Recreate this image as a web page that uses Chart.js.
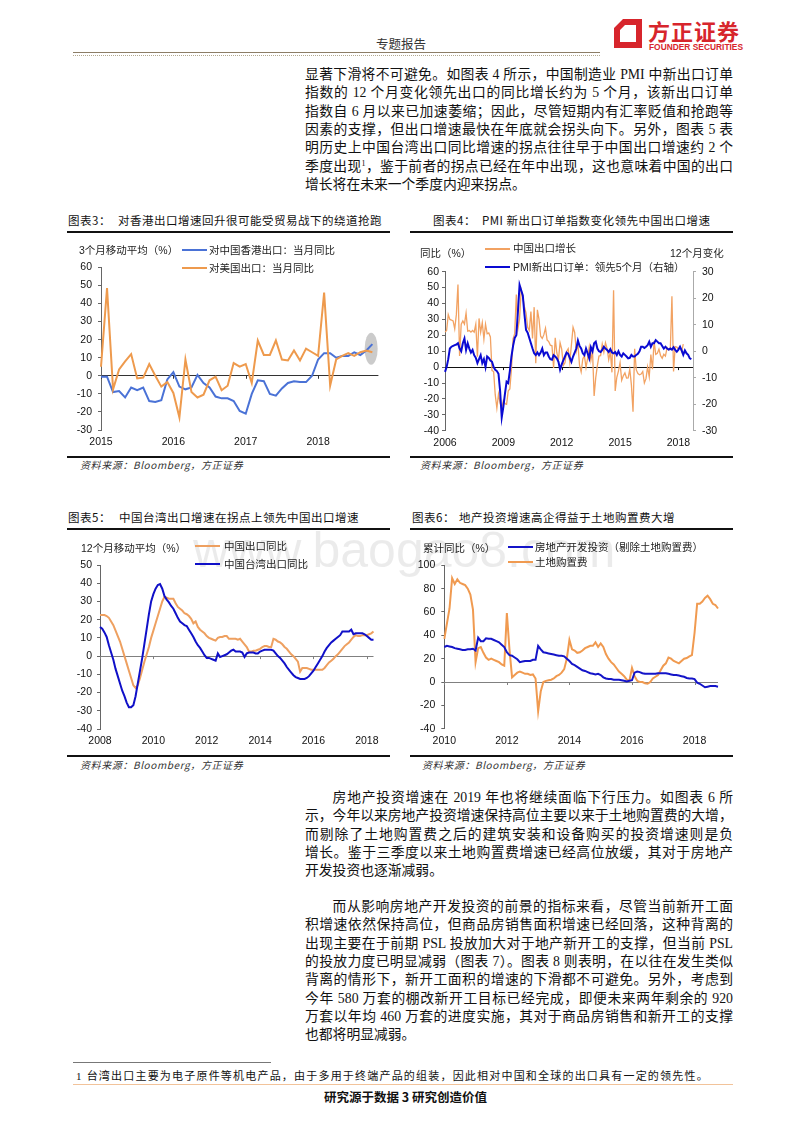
<!DOCTYPE html>
<html lang="zh-CN">
<head>
<meta charset="utf-8">
<title>专题报告</title>
<script src="https://cdn.jsdelivr.net/npm/chart.js@4.4.1/dist/chart.umd.min.js"></script>
<style>
  html, body { margin: 0; padding: 0; background: #fff; }
  body { position: relative; width: 800px; height: 1132px; overflow: hidden; color: #111;
         font-family: "Liberation Serif", "Noto Sans CJK SC", serif; }
  .abs { position: absolute; white-space: nowrap; }
  .para { position: absolute; left: 305px; width: 428px; font-size: 13.8px; line-height: 18.33px; }
  .para div { white-space: nowrap; text-align: justify; text-align-last: justify; }
  .para div.last { text-align-last: left; }
  .para .ind { padding-left: 27.6px; }
  .ctitle { font-family: "Noto Sans CJK SC", sans-serif; font-size: 11.5px; letter-spacing: 0.5px; line-height: 14px; color: #111; }
  .rule { position: absolute; height: 2px; background: #111; }
  .src { font-family: "Noto Sans CJK SC", sans-serif; font-style: italic; font-size: 10px; letter-spacing: 0.6px; color: #333; line-height: 12px; }
  .lab { font-family: "Noto Sans CJK SC", sans-serif; font-size: 10.5px; line-height: 12px; color: #222; }
  .lab b { font-family: "Liberation Sans", sans-serif; font-weight: normal; }
  .key { position: absolute; height: 2px; width: 25px; }
  canvas { position: absolute; }
</style>
</head>
<body>

<!-- header -->
<div class="abs" style="left:376px;top:36px;font-family:'Noto Sans CJK SC';font-size:12.5px;line-height:15px;color:#333">专题报告</div>
<div class="abs" style="left:73px;top:52px;width:527px;height:1px;background:#8c7d66"></div>
<div class="abs" style="left:73px;top:55px;width:527px;height:0;border-top:1px dotted #b3a88f"></div>
<svg class="abs" style="left:612px;top:18px" width="32" height="31" viewBox="0 0 30 31">
  <path d="M10 1 H29 V30 H1 V10 Z M12 7 L7 12 V24 H23 V7 Z" fill="#d7252c" fill-rule="evenodd"/>
</svg>
<div class="abs" style="left:648px;top:17px;font-family:'Noto Sans CJK SC';font-weight:bold;font-size:22px;line-height:26px;letter-spacing:1px;color:#d7252c">方正证券</div>
<div class="abs" style="left:649px;top:43px;font-family:'Liberation Sans Narrow','Liberation Sans';font-weight:bold;font-size:8.4px;line-height:9px;color:#d7252c">FOUNDER SECURITIES</div>

<!-- upper text -->
<div class="para" style="top:66px">
  <div>显著下滑将不可避免。如图表 4 所示，中国制造业 PMI 中新出口订单</div>
  <div>指数的 12 个月变化领先出口的同比增长约为 5 个月，该新出口订单</div>
  <div>指数自 6 月以来已加速萎缩；因此，尽管短期内有汇率贬值和抢跑等</div>
  <div>因素的支撑，但出口增速最快在年底就会拐头向下。另外，图表 5 表</div>
  <div>明历史上中国台湾出口同比增速的拐点往往早于中国出口增速约 2 个</div>
  <div>季度出现<sup style="font-size:8px;vertical-align:5px;line-height:0">1</sup>，鉴于前者的拐点已经在年中出现，这也意味着中国的出口</div>
  <div class="last">增长将在未来一个季度内迎来拐点。</div>
</div>

<!-- watermark -->
<div class="abs" style="left:193px;top:520px;font-family:'Liberation Sans';font-size:50px;line-height:60px;color:rgba(0,0,0,0.08)">www.baogao8.com</div>

<!-- chart 3 frame -->
<div class="abs ctitle" style="left:68px;top:213px">图表3：</div>
<div class="abs ctitle" style="left:118px;top:213px">对香港出口增速回升很可能受贸易战下的绕道抢跑</div>
<div class="rule" style="left:67px;top:231px;width:323px"></div>
<div class="rule" style="left:67px;top:456px;width:323px"></div>
<div class="abs src" style="left:80px;top:459px">资料来源：Bloomberg，方正证券</div>
<canvas id="c3" width="340" height="200" style="left:50px;top:255px"></canvas>
<div class="abs lab" style="left:79px;top:244px"><b>3</b>个月移动平均（<b>%</b>）</div>
<div class="key" style="left:182px;top:249px;background:#4a72d6"></div>
<div class="abs lab" style="left:209px;top:244px">对中国香港出口：当月同比</div>
<div class="key" style="left:182px;top:267px;background:#ee9a4d"></div>
<div class="abs lab" style="left:209px;top:262px">对美国出口：当月同比</div>

<!-- chart 4 frame -->
<div class="abs ctitle" style="left:433px;top:213px">图表4：</div>
<div class="abs ctitle" style="left:482px;top:213px">PMI 新出口订单指数变化领先中国出口增速</div>
<div class="rule" style="left:410px;top:231px;width:323px"></div>
<div class="rule" style="left:410px;top:456px;width:323px"></div>
<div class="abs src" style="left:420px;top:459px">资料来源：Bloomberg，方正证券</div>
<canvas id="c4" width="340" height="200" style="left:400px;top:258px"></canvas>
<div class="abs lab" style="left:420px;top:247px">同比（<b>%</b>）</div>
<div class="abs lab" style="left:670px;top:247px"><b>12</b>个月变化</div>
<div class="key" style="left:485px;top:248px;background:#f2a262"></div>
<div class="abs lab" style="left:513px;top:242px">中国出口增长</div>
<div class="key" style="left:485px;top:266px;background:#0a0ad2"></div>
<div class="abs lab" style="left:513px;top:261px"><b>PMI</b>新出口订单：领先<b>5</b>个月（右轴）</div>

<!-- chart 5 frame -->
<div class="abs ctitle" style="left:68px;top:510px">图表5：</div>
<div class="abs ctitle" style="left:119px;top:510px">中国台湾出口增速在拐点上领先中国出口增速</div>
<div class="rule" style="left:67px;top:528px;width:323px"></div>
<div class="rule" style="left:67px;top:755px;width:323px"></div>
<div class="abs src" style="left:80px;top:759px">资料来源：Bloomberg，方正证券</div>
<canvas id="c5" width="340" height="202" style="left:50px;top:552px"></canvas>
<div class="abs lab" style="left:81px;top:542px"><b>12</b>个月移动平均（<b>%</b>）</div>
<div class="key" style="left:195px;top:545px;background:#eea060"></div>
<div class="abs lab" style="left:224px;top:540px">中国出口同比</div>
<div class="key" style="left:195px;top:563px;background:#1010c8"></div>
<div class="abs lab" style="left:224px;top:558px">中国台湾出口同比</div>

<!-- chart 6 frame -->
<div class="abs ctitle" style="left:412px;top:510px">图表6：</div>
<div class="abs ctitle" style="left:459px;top:510px">地产投资增速高企得益于土地购置费大增</div>
<div class="rule" style="left:410px;top:528px;width:323px"></div>
<div class="rule" style="left:410px;top:755px;width:323px"></div>
<div class="abs src" style="left:422px;top:759px">资料来源：Bloomberg，方正证券</div>
<canvas id="c6" width="340" height="202" style="left:390px;top:552px"></canvas>
<div class="abs lab" style="left:423px;top:542px">累计同比（<b>%</b>）</div>
<div class="key" style="left:508px;top:546px;background:#1414c8"></div>
<div class="abs lab" style="left:535px;top:541px">房地产开发投资（剔除土地购置费）</div>
<div class="key" style="left:508px;top:561px;background:#f09a50"></div>
<div class="abs lab" style="left:535px;top:556px">土地购置费</div>

<!-- lower text -->
<div class="para" style="top:789px">
  <div class="ind">房地产投资增速在 2019 年也将继续面临下行压力。如图表 6 所</div>
  <div style="text-align-last:left">示，今年以来房地产投资增速保持高位主要以来于土地购置费的大增，</div>
  <div>而剔除了土地购置费之后的建筑安装和设备购买的投资增速则是负</div>
  <div>增长。鉴于三季度以来土地购置费增速已经高位放缓，其对于房地产</div>
  <div class="last">开发投资也逐渐减弱。</div>
</div>
<div class="para" style="top:898px">
  <div class="ind">而从影响房地产开发投资的前景的指标来看，尽管当前新开工面</div>
  <div>积增速依然保持高位，但商品房销售面积增速已经回落，这种背离的</div>
  <div>出现主要在于前期 PSL 投放加大对于地产新开工的支撑，但当前 PSL</div>
  <div>的投放力度已明显减弱（图表 7）。图表 8 则表明，在以往在发生类似</div>
  <div>背离的情形下，新开工面积的增速的下滑都不可避免。另外，考虑到</div>
  <div>今年 580 万套的棚改新开工目标已经完成，即便未来两年剩余的 920</div>
  <div>万套以年均 460 万套的进度实施，其对于商品房销售和新开工的支撑</div>
  <div class="last">也都将明显减弱。</div>
</div>

<!-- footnote / footer -->
<div class="abs" style="left:73px;top:1062px;width:198px;height:1px;background:#777"></div>
<div class="abs" style="left:76px;top:1069px;font-size:11px;line-height:14px;letter-spacing:1.2px">1 台湾出口主要为电子原件等机电产品，由于多用于终端产品的组装，因此相对中国和全球的出口具有一定的领先性。</div>
<div class="abs" style="left:73px;top:1084px;width:660px;height:1px;background:#f2c39a"></div>
<div class="abs" style="left:324px;top:1089px;font-family:'Noto Sans CJK SC';font-weight:bold;font-size:12.5px;line-height:16px">研究源于数据 3 研究创造价值</div>

<script>
// ---------- data ----------
function monthLabels(year, month, n) {
  const out = [];
  for (let i = 0; i < n; i++) {
    const m = month - 1 + i;
    out.push((year + Math.floor(m / 12)) + '-' + String(m % 12 + 1).padStart(2, '0'));
  }
  return out;
}

// chart 3: exports to Hong Kong / US, 3m moving avg yoy, Jan 2015 on
const hkMonths = monthLabels(2015, 1, 47);
const hkTickYears = ['2015', '2016', '2017', '2018'];
const hkExport = [-0.5, -0.5, -9, -8.5, -12, -6.5, -8, -6.5, -14, -14.5, -13.5, -2,
  2, -6, -7.5, -6.5, 0.5, -4, -6.5, -11.5, -12.5, -12.5, -14, -19.5,
  -21, -10, -2.5, -3, -10, -11, -7, -4, -3, -3.5, -3.5, 0,
  9, 12.5, 12.5, 10, 11, 11, 13, 11.5, 14, 17.5];
const usExport = [5, 48.5, -7.5, 3.5, 8, 12, -1.5, -1, 6.5, 0, -6, -3.5,
  -9.5, -23, 9, -9, -12, -10.5, -2.5, -0.5, -8, -5.5, 7, 5,
  6.5, -4, 19.5, 11.5, 11.5, 19.5, 9, 8.5, 14, 8.5, 15, 13,
  11, 46, -5.5, 9, 11, 12.5, 11, 13, 14, 13];

// chart 4: China export yoy vs PMI new export orders 12m change (lead 5m), Jun 2006 on
const pmiMonths = monthLabels(2006, 6, 154);
const pmiTickYears = ['2006', '2009', '2012', '2015', '2018'];
const cnExportYoY = [22, 23, 33, 30, 29.6, 29, 24,
  33, 52, 7, 27, 29, 27, 34, 22.6, 23, 22, 23, 22,
  27, 6.5, 30.6, 22, 28, 17.6, 27, 21, 21.5, 19, -2.2, -2.8,
  -17.5, -25.7, -17, -22.6, -26, -21, -23, -23.4, -15, -13.8, -1.2, 17.7,
  21, 45.7, 24, 30.5, 48.5, 44, 38, 34, 25, 23, 35, 18,
  37.7, 2.4, 36, 30, 19.4, 18, 20.4, 24.5, 17, 16, 13.8, 13.4,
  -0.5, 18.4, 8.9, 4.9, 15.3, 11.3, 1, 2.7, 9.9, 11.6, 2.9, 14.1,
  25, 21.8, 10, 14.7, 1, -3.1, 5.1, 7.2, -0.3, 5.6, 12.7, 4.3,
  10.6, -18.1, -6.6, 0.9, 7, 7.2, 14.5, 9.4, 15.3, 11.6, 4.7, 9.7,
  -3.3, 48.3, -15, -6.4, -2.5, 2.8, -8.3, -5.5, -3.7, -6.9, -6.8, -1.4,
  -11.2, -28, 11.5, -1.8, -4.1, -4.8, -4.4, -2.8, -10, -7.3, 0.1, -6.1,
  7.9, -1.3, 16.4, 8, 8.7, 11.3, 7.2, 5.5, 8.1, 6.9, 12.3, 10.9,
  11.1, 44.5, -2.7, 12.9, 12.6, 11.3, 12.2, 9.8, 14.5];
const pmiExportOrders12m = [-7.8, -6, -3, 1, 1.7, 2, 2.3, 2.5, 3, 1, 0, 3,
  4.8, 0.5, 3, 1, -0.5, 0.5, -1.5, -2.5, -4.5, -3, -1.5, -4.5,
  -3, -6, -2, -2.5, -3.5, -4, -6, -7, -7.5, -8.5, -15, -25,
  -21, -16, -11.5, -12, -7.5, -2, 2, 5, 6, 15, 25, 23,
  21, 14, 8, 7, 5, 3, 1, -0.8, -1.5, -0.5, -1.5, -0.5,
  1, -1.5, -0.5, -0.5, -2, -3, -3.2, -1.5, -2, -2.7, -4, -7,
  -5, -3.5, -2, -0.5, -1, -2.5, -4, -2, -0.5, 1, 4, 2,
  1, -0.8, -1.5, 1, -0.8, -2.7, 1.5, 0, 3, 3.6, 1, 0,
  -0.3, 0.5, 1.7, 1, 0.5, -0.3, 0.8, -0.5, -0.8, -0.3, -1.4, 0,
  -1.4, -2, -0.8, -1.4, -2, -2.7, -2.5, -1.4, -2, -2, -1.4, -1,
  0, 1.7, 1.7, 1.2, 1.7, 2.3, 3.6, 1.7, 3, 3, 4.2, 3.6,
  3, 3, 2, 1, 1.7, 1, 0.6, 1, 0.6, 1.5, 0.5, -0.2,
  0.6, 1.7, 0.3, -1.4, 0.3, -0.8, -1.4, -2.7, -3];

// chart 5: 12m moving avg yoy, Jan 2008 on
const twMonths = monthLabels(2008, 1, 124);
const twTickYears = ['2008', '2010', '2012', '2014', '2016', '2018'];
const cnExportMA = [22.5, 22.5, 22.5, 22, 21, 19, 17, 14, 11, 8, 4, 0,
  -4, -8, -12, -16, -17.5, -16, -12, -7.5, -3, 1, 5, 10,
  14, 18, 22, 26, 30, 32.5, 32, 31.5, 31.5, 31.5, 29, 27,
  26, 25, 23.5, 23, 22, 20.5, 18, 19, 16, 14.5, 13.5, 12.5,
  11, 10, 9.5, 9, 8.5, 10, 10.5, 10.5, 11, 11, 9.5, 9.5,
  9.5, 9.5, 9, 9.5, 8, 6.5, 5, 2.5, 2.5, 3, 3, 3.5,
  4, 5, 5.5, 5.5, 5, 5, 9.5, 9, 8, 7.5, 6.5, 5,
  4, 2.5, 1, 0, -1.5, -3, -8.5, -6.5, -6.5, -6.5, -7, -7.5,
  -7.5, -7.5, -7.5, -7.5, -7.5, -6.5, -5, -3.5, -2.5, -1.5, 0, 1,
  2.5, 4, 5.5, 6.5, 7.5, 9, 10.5, 11.5, 11, 11, 11.5, 11.5,
  11.5, 12, 12.5, 13.5];
const twExportMA = [16, 15, 13, 10.5, 6, 2, -2, -7, -11, -15, -19, -22,
  -25.5, -28, -28, -27, -22, -15, -8, -1, 7, 15, 23, 30,
  34, 37, 39, 39.5, 37, 33, 31, 29.5, 27.5, 26, 23.5, 21,
  19, 18, 17, 16.5, 14.5, 12.5, 10.5, 8, 6, 4.5, 2.5, 0.5,
  -1, -1, -1.5, -2, -2.5, 1.5, -0.5, 0, 0.5, 1, 2, 3,
  3.5, 2.5, 2.5, 2.5, 2, -0.5, 1.5, 2, 2, 2, 1.5, 1.5,
  2.5, 3, 3.5, 3.5, 3.5, 3.5, 3, 1.5, 0, -1, -2.5, -4,
  -6, -7.5, -9, -10.5, -11.5, -12, -12.5, -12.5, -12.5, -12, -11, -9.5,
  -8, -6, -4, -2, 0, 2.5, 4.5, 6, 7.5, 8.5, 9.5, 10.5,
  11.5, 13.5, 13.5, 13.5, 13.5, 14.5, 12, 12.5, 12.5, 12.5, 12.5, 12,
  11, 10, 9, 9];

// chart 6: cumulative yoy, Jan 2010 on
const reMonths = monthLabels(2010, 1, 106);
const reTickYears = ['2010', '2012', '2014', '2016', '2018'];
const reInvestExLand = [30, 31, 30.5, 30, 29, 28.5, 28, 27.5, 27.5, 28, 28, 28.5,
  27, 38, 35, 35, 37.5, 37, 37, 36, 35, 34, 32, 30,
  25.5, 23, 22.5, 21, 19.5, 17, 17.5, 18, 18, 18, 19, 19,
  31, 28, 25.5, 25, 24.5, 24, 23.5, 23, 22.5, 22.5, 22, 20,
  18, 15.5, 14.5, 13, 11.5, 10, 9.5, 8.5, 7.5, 7, 6.5, 7,
  6, 4, 3, 2.5, 2.5, 2, 2, 2, 1.5, 1, 0.5, 1,
  1.5, 8, 9, 8.5, 7.5, 7, 7, 7, 7, 7, 7.5, 7.5,
  7.5, 7.5, 7, 6.5, 6, 6, 5.5, 5, 4.5, 3.5, 3, 3,
  2.5, -0.5, -1.5, -3, -4.5, -4, -3.5, -3.5, -3.5, -4];
const landPurchaseFee = [37, 50, 63, 89, 84, 88, 85, 84, 83, 80, 75, 62,
  17, 29, 30, 25, 21, 19, 20, 19, 18, 17, 15, 14,
  59, 28, 4, 6, 8, 9, 8, 7, 7, 6, 6.5, 3,
  -25, -8, 0, 1, 1.5, 2, 3, 5, 6, 8, 11, 20,
  36, 28, 27, 25, 25.5, 27, 29, 30, 31, 31, 34, 30,
  33, 30, 24, 20, 17, 15, 12, 9, 7, 5, 2, 1,
  12, 5, 1, 0, 0, -1, -1.5, 0, 3, 4.5, 6, 10,
  14, 16, 21, 20, 18, 17, 16, 18, 20, 20.5, 22, 23,
  42, 67, 67, 69, 72, 74, 71, 67, 66, 63];

// ---------- helpers ----------
const tickFont = { family: 'Liberation Sans', size: 10.5 };

// small tick marks hanging under the zero line at each labelled year
const zeroTicks = {
  id: 'zeroTicks',
  beforeDatasetsDraw(chart, args, opts) {
    const x = chart.scales.x, y = chart.scales.y;
    const y0 = y.getPixelForValue(0);
    const ctx = chart.ctx;
    ctx.save();
    ctx.strokeStyle = opts.color || '#555';
    ctx.lineWidth = 1;
    x.ticks.forEach(t => {
      const px = Math.round(x.getPixelForValue(t.value)) + 0.5;
      ctx.beginPath();
      ctx.moveTo(px, y0);
      ctx.lineTo(px, y0 + 3);
      ctx.stroke();
    });
    ctx.restore();
  }
};
Chart.register(zeroTicks);

// grey oval marking the latest readings in chart 3
const highlight = {
  id: 'highlight',
  beforeDatasetsDraw(chart, args, o) {
    const cx = chart.scales.x.getPixelForValue(o.index);
    const cy = chart.scales.y.getPixelForValue(o.value);
    const ctx = chart.ctx;
    ctx.save();
    ctx.fillStyle = o.color;
    ctx.beginPath();
    ctx.ellipse(cx, cy, o.rx, o.ry, 0, 0, Math.PI * 2);
    ctx.fill();
    ctx.restore();
  }
};

function xAxis(labels, years, month, height) {
  const keep = years.map(y => labels.indexOf(y + '-' + month));
  return {
    type: 'category',
    grid: { display: false, drawTicks: false },
    border: { display: false },
    ticks: {
      autoSkip: false, maxRotation: 0, minRotation: 0, padding: 6,
      color: '#111', font: tickFont,
      callback: v => labels[v].slice(0, 4)
    },
    afterBuildTicks: axis => { axis.ticks = axis.ticks.filter(t => keep.includes(t.value)); },
    afterFit: axis => { axis.height = height; }
  };
}

function yAxis(min, max, step, width, zeroColor, pad) {
  return {
    min: min, max: max,
    ticks: { stepSize: step, color: '#111', font: tickFont, padding: pad },
    grid: {
      color: c => (c.tick && c.tick.value === 0) ? zeroColor : 'rgba(0,0,0,0)',
      tickColor: '#666', tickLength: 3
    },
    border: { color: '#666' },
    afterFit: axis => { axis.width = width; }
  };
}

function line(data, color, width, axis) {
  return {
    data: data, borderColor: color, borderWidth: width, pointRadius: 0,
    tension: 0, fill: false, yAxisID: axis || 'y'
  };
}

const common = {
  responsive: false, animation: false, devicePixelRatio: 1,
  events: []
};

// ---------- chart 3 ----------
new Chart(document.getElementById('c3'), {
  type: 'line',
  data: {
    labels: hkMonths,
    datasets: [line(usExport, '#ee9a4d', 2), line(hkExport, '#4a72d6', 2)]
  },
  options: Object.assign({}, common, {
    layout: { padding: { top: 12.3, right: 11.6, left: 0, bottom: 0 } },
    scales: {
      x: xAxis(hkMonths, hkTickYears, '01', 25),
      y: yAxis(-30, 60, 10, 51, '#333', 6)
    },
    plugins: {
      legend: { display: false }, tooltip: { enabled: false },
      zeroTicks: { color: '#333' },
      highlight: { index: 44.8, value: 15, rx: 6.5, ry: 16, color: 'rgba(185,185,185,0.75)' }
    }
  }),
  plugins: [highlight]
});

// ---------- chart 4 ----------
new Chart(document.getElementById('c4'), {
  type: 'line',
  data: {
    labels: pmiMonths,
    datasets: [line(pmiExportOrders12m, '#0a0ad2', 2, 'y2'), line(cnExportYoY, '#f2a262', 1.3)]
  },
  options: Object.assign({}, common, {
    layout: { padding: { top: 13.7, right: 0, left: 0, bottom: 0 } },
    scales: {
      x: xAxis(pmiMonths, pmiTickYears, '06', 27.3),
      y: yAxis(-40, 60, 10, 45, '#111', 3),
      y2: {
        position: 'right', min: -30, max: 30,
        ticks: { stepSize: 10, color: '#111', font: tickFont, padding: 6 },
        grid: { drawOnChartArea: false, tickColor: '#aaa', tickLength: 3 },
        border: { color: '#aaa' },
        afterFit: axis => { axis.width = 47; }
      }
    },
    plugins: {
      legend: { display: false }, tooltip: { enabled: false },
      zeroTicks: { color: '#111' }
    }
  })
});

// ---------- chart 5 ----------
new Chart(document.getElementById('c5'), {
  type: 'line',
  data: {
    labels: twMonths,
    datasets: [line(twExportMA, '#1010c8', 2), line(cnExportMA, '#eea060', 2)]
  },
  options: Object.assign({}, common, {
    layout: { padding: { top: 13, right: 16.5, left: 0, bottom: 0 } },
    scales: {
      x: xAxis(twMonths, twTickYears, '01', 25),
      y: yAxis(-40, 50, 10, 50, '#808080', 5)
    },
    plugins: {
      legend: { display: false }, tooltip: { enabled: false },
      zeroTicks: { color: '#808080' }
    }
  })
});

// ---------- chart 6 ----------
new Chart(document.getElementById('c6'), {
  type: 'line',
  data: {
    labels: reMonths,
    datasets: [line(reInvestExLand, '#1414c8', 2), line(landPurchaseFee, '#f09a50', 2)]
  },
  options: Object.assign({}, common, {
    layout: { padding: { top: 13.3, right: 12, left: 0, bottom: 0 } },
    scales: {
      x: xAxis(reMonths, reTickYears, '01', 25.3),
      y: yAxis(-40, 100, 20, 54.3, '#808080', 6)
    },
    plugins: {
      legend: { display: false }, tooltip: { enabled: false },
      zeroTicks: { color: '#808080' }
    }
  })
});
</script>
</body>
</html>
